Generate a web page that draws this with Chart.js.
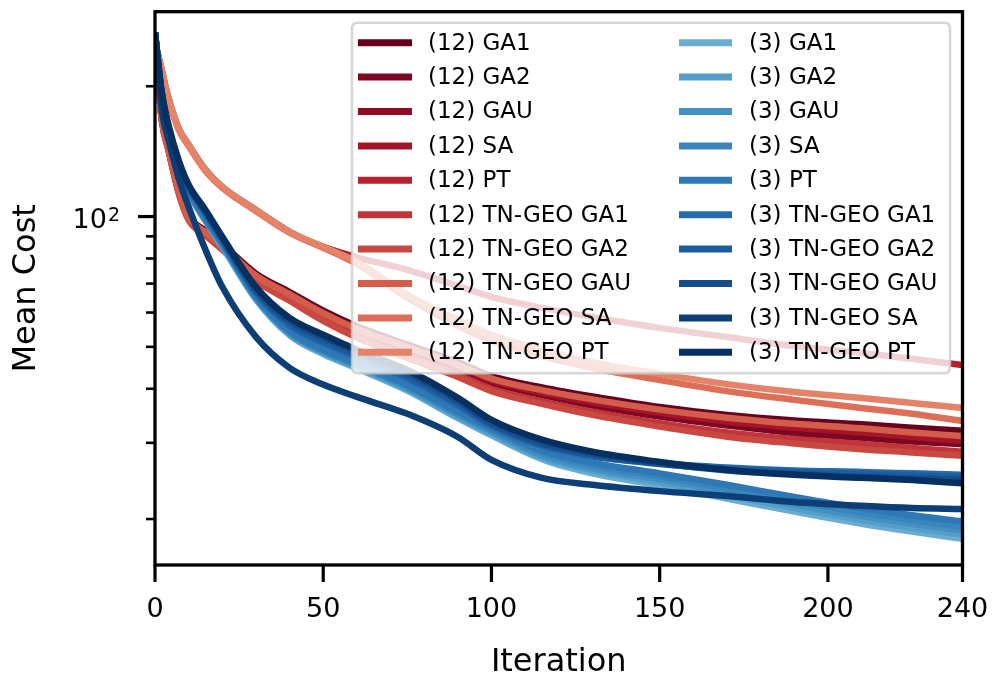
<!DOCTYPE html>
<html>
<head>
<meta charset="utf-8">
<script src="https://cdn.jsdelivr.net/npm/chart.js@4/dist/chart.umd.min.js"></script>
<style>html,body{margin:0;padding:0;background:#fff;}canvas{display:block;}</style>
</head>
<body>
<canvas id="c" width="995" height="679"></canvas>
<script>
// ---------- data ----------
const iterations = [0,2,4,7,10,15,20,30,40,50,60,75,90,100,115,130,150,170,190,210,225,240];

const s12_GA1   = [256,170,145,116,100.3,92.8,86.3,73.8,66.9,60.6,55.8,50.6,46.1,42.8,40.3,38.4,36.3,34.8,33.8,33.1,32.5,32.0];
const s12_GA2   = [255,168,143,114.5,99,91.5,85,72.3,65.4,59.0,54.2,49.0,44.5,41.3,38.7,36.6,34.5,32.9,31.6,30.8,30.2,29.8];
const s12_GAU   = [254,169,144.5,115.5,99.8,92.2,85.7,73.2,66.3,60.0,55.2,50.0,45.4,42.2,39.6,37.6,35.6,34.0,33.0,32.1,31.4,30.8];
const s12_SA    = [255,169.5,144,115,99.5,91.9,85.3,72.8,65.9,59.5,54.7,49.5,45.0,41.8,39.2,37.2,35.2,33.6,32.5,31.7,31.0,30.3];
const s12_PT    = [253,218,188,160,146.5,128.2,117.1,103.6,92.2,85.1,80.5,75.3,69.1,65.2,61.5,58.6,55.3,52.7,50.2,48.4,46.9,45.4];
const s12_TGA1  = [255,168,143,114,98.5,90.8,84.2,71.5,64.5,58.0,53.0,47.6,43.1,40.0,37.4,35.4,33.3,31.7,30.6,29.8,29.2,28.6];
const s12_TGA2  = [254,167,142,113.5,98.2,90.5,83.8,71.0,63.9,57.4,52.5,47.1,42.6,39.5,36.9,34.8,32.7,31.0,29.9,29.0,28.5,28.0];
const s12_TGAU  = [255,169,144,115.3,99.6,92.0,85.5,73.0,66.1,59.8,55.0,49.9,45.4,42.2,39.7,37.8,35.8,34.3,33.2,32.4,31.7,31.1];
const s12_TSA   = [252,217,187,159,145.5,127.5,116.5,103,91.8,84.7,77.7,64.9,55.9,51.6,47.6,44.7,41.9,39.5,37.7,36.1,35.0,33.7];
const s12_TPT   = [253,218,188,160,146.5,128.2,117.1,103.6,92.2,85.1,78.6,65.9,57.7,53.3,49.2,46.1,43.3,41.0,39.3,38.1,37.1,36.1];

const s3_GA1    = [266,185,156,128.8,113.3,97.6,85.2,64.3,53.2,48.1,44.6,39.6,34.2,31.2,27.5,25.5,23.9,22.3,20.8,19.5,18.7,18.0];
const s3_GA2    = [266,185.5,156.5,129.2,113.7,98.0,85.6,64.6,53.5,48.4,44.9,39.9,34.5,31.5,27.8,25.9,24.3,22.7,21.2,19.9,19.1,18.4];
const s3_GAU    = [266,186,157,129.6,114.1,98.3,86.0,64.9,53.8,48.7,45.2,40.2,34.8,31.8,28.1,26.2,24.7,23.1,21.6,20.3,19.5,18.8];
const s3_SA     = [266,186.5,157.5,130,114.5,98.7,86.4,65.2,54.1,49.0,45.5,40.5,35.1,32.1,28.5,26.6,25.1,23.5,22.0,20.7,19.9,19.2];
const s3_PT     = [266,187,158,130.5,115,99,86.8,65.5,54.4,49.3,45.8,40.8,35.4,32.4,28.8,27.0,25.5,24.0,22.5,21.2,20.4,19.75];
const s3_TGA1   = [266,190,160,132.5,116.5,101.5,88.0,66.5,56.0,51.0,47.3,42.2,36.5,32.8,29.5,27.9,26.9,26.3,25.9,25.7,25.5,25.3];
const s3_TGA2   = [266,191,160.5,133,117,102,88.4,67.0,56.5,51.5,47.7,42.6,36.9,33.0,29.7,28.0,26.8,26.1,25.7,25.4,25.2,25.0];
const s3_TGAU   = [266,193,161.5,134,117.5,102.5,88.8,67.8,57.4,52.5,48.5,43.5,37.5,33.3,30.0,28.3,26.9,25.9,25.4,25.0,24.8,24.7];
const s3_TSA    = [266,176.5,150.4,122.9,105.3,83.8,68.8,52.7,44.7,40.9,38.3,35.0,30.95,27.4,24.9,24.0,23.2,22.6,21.9,21.45,21.2,21.1];
const s3_TPT    = [266,194.2,162.9,135.2,118.4,103.6,89.8,68.8,58.3,53.3,49.2,44.2,38.1,33.9,30.5,28.6,27.1,26.0,25.3,24.9,24.6,24.2];

const seriesLabels = [
  "(12) GA1","(12) GA2","(12) GAU","(12) SA","(12) PT",
  "(12) TN-GEO GA1","(12) TN-GEO GA2","(12) TN-GEO GAU","(12) TN-GEO SA","(12) TN-GEO PT",
  "(3) GA1","(3) GA2","(3) GAU","(3) SA","(3) PT",
  "(3) TN-GEO GA1","(3) TN-GEO GA2","(3) TN-GEO GAU","(3) TN-GEO SA","(3) TN-GEO PT"
];
const seriesValues = [
  s12_GA1,s12_GA2,s12_GAU,s12_SA,s12_PT,s12_TGA1,s12_TGA2,s12_TGAU,s12_TSA,s12_TPT,
  s3_GA1,s3_GA2,s3_GAU,s3_SA,s3_PT,s3_TGA1,s3_TGA2,s3_TGAU,s3_TSA,s3_TPT
];
const seriesColors = [
  "#67001f","#7c0722","#910d26","#a51429","#b6202f","#c0343a","#ca4842","#d45c4b","#dd6f59","#e58368",
  "#6bacd1","#559ec9","#4191c2","#3884bb","#2e78b5","#256baf","#1c5da0","#154e8b","#0d3f76","#053061"
];

const xTickValues = [0,50,100,150,200,240];
const xTickLabels = ["0","50","100","150","200","240"];
const yTickValues = [100];
const yTickBase = ["10"];
const yTickExp = ["2"];
const yMinorTickValues = [20,30,40,50,60,70,80,90,200];

// ---------- chart ----------
const FONT = "'DejaVu Sans', 'Liberation Sans', sans-serif";
Chart.defaults.font.family = FONT;
Chart.defaults.color = "#000";

const N = seriesLabels.length;
const datasets = seriesLabels.map((lab, i) => ({
  label: lab,
  data: iterations.map((it, j) => ({x: it, y: seriesValues[i][j]})),
  borderColor: seriesColors[i],
  backgroundColor: seriesColors[i],
  borderWidth: 6.5,
  pointRadius: 0,
  fill: false,
  cubicInterpolationMode: 'monotone',
  borderCapStyle: 'butt',
  borderJoinStyle: 'round',
  order: N - i
}));

function line(ctx, x0, y0, x1, y1) { ctx.beginPath(); ctx.moveTo(x0, y0); ctx.lineTo(x1, y1); ctx.stroke(); }

const axesPlugin = {
  id: 'axesDeco',
  afterDraw(chart) {
    const {ctx, chartArea: a, scales: {x, y}} = chart;
    ctx.save();
    ctx.strokeStyle = '#000';
    ctx.lineCap = 'butt';
    ctx.lineWidth = 3.2;
    xTickValues.forEach(v => { const px = x.getPixelForValue(v); line(ctx, px, a.bottom, px, a.bottom + 17); });
    yTickValues.forEach(v => { const py = y.getPixelForValue(v); line(ctx, a.left - 17, py, a.left, py); });
    ctx.lineWidth = 2.6;
    yMinorTickValues.forEach(v => { const py = y.getPixelForValue(v); line(ctx, a.left - 9, py, a.left, py); });
    ctx.lineWidth = 3.3;
    ctx.strokeRect(a.left, a.top, a.right - a.left, a.bottom - a.top);
    // tick labels
    ctx.fillStyle = '#000';
    ctx.textBaseline = 'alphabetic';
    ctx.font = "27px " + FONT;
    ctx.textAlign = 'center';
    xTickValues.forEach((v, k) => { ctx.fillText(xTickLabels[k], x.getPixelForValue(v), a.bottom + 52); });
    yTickValues.forEach((v, k) => {
      const py = y.getPixelForValue(v);
      const right = a.left - 35;
      ctx.font = "19px " + FONT;
      ctx.textAlign = 'right';
      const ew = ctx.measureText(yTickExp[k]).width;
      ctx.fillText(yTickExp[k], right, py + 4);
      ctx.font = "27px " + FONT;
      ctx.fillText(yTickBase[k], right - ew - 1, py + 11);
    });
    ctx.restore();
  }
};

const legendPlugin = {
  id: 'legendBox',
  afterDatasetsDraw(chart) {
    const ctx = chart.ctx;
    const L = 352, T = 22.7, R = 950, B = 373.3, r = 6;
    ctx.save();
    ctx.beginPath();
    ctx.moveTo(L + r, T); ctx.lineTo(R - r, T); ctx.quadraticCurveTo(R, T, R, T + r);
    ctx.lineTo(R, B - r); ctx.quadraticCurveTo(R, B, R - r, B);
    ctx.lineTo(L + r, B); ctx.quadraticCurveTo(L, B, L, B - r);
    ctx.lineTo(L, T + r); ctx.quadraticCurveTo(L, T, L + r, T);
    ctx.closePath();
    ctx.fillStyle = 'rgba(255,255,255,0.8)';
    ctx.fill();
    ctx.strokeStyle = 'rgba(204,204,204,0.8)';
    ctx.lineWidth = 2.5;
    ctx.stroke();
    ctx.font = "23px " + FONT;
    ctx.textBaseline = 'middle';
    ctx.textAlign = 'left';
    chart.data.datasets.forEach((ds, i) => {
      const col = i < 10 ? 0 : 1;
      const row = i % 10;
      const yy = 42.7 + row * 34.4;
      const hx0 = col ? 679 : 358, hx1 = col ? 732 : 412, tx = col ? 749 : 428;
      ctx.strokeStyle = ds.borderColor;
      ctx.lineWidth = 7;
      ctx.lineCap = 'butt';
      line(ctx, hx0, yy, hx1, yy);
      ctx.fillStyle = '#000';
      ctx.fillText(ds.label, tx, yy + 1);
    });
    ctx.restore();
  }
};

new Chart(document.getElementById('c'), {
  type: 'line',
  data: { datasets },
  options: {
    responsive: false,
    animation: false,
    devicePixelRatio: 1,
    layout: { padding: { top: 11.7, right: 32.5, left: 0, bottom: 0 } },
    plugins: { legend: { display: false }, tooltip: { enabled: false } },
    scales: {
      x: {
        type: 'linear',
        min: 0, max: 240,
        grid: { display: false, drawTicks: false },
        border: { display: false },
        afterBuildTicks: s => { s.ticks = xTickValues.map(v => ({value: v})); },
        afterFit: s => { s.height = 114; s.paddingLeft = 0; s.paddingRight = 0; },
        ticks: { display: false },
        title: { display: true, text: 'Iteration', color: '#000', font: { size: 32, lineHeight: 1 }, padding: { top: 0, bottom: 0 } }
      },
      y: {
        type: 'logarithmic',
        min: 15.66, max: 297.4,
        grid: { display: false, drawTicks: false },
        border: { display: false },
        afterBuildTicks: s => { s.ticks = yTickValues.map(v => ({value: v})); },
        afterFit: s => { s.width = 155; s.paddingTop = 0; s.paddingBottom = 0; },
        ticks: { display: false },
        title: { display: true, text: 'Mean Cost', color: '#000', font: { size: 32, lineHeight: 1 }, padding: { top: 11, bottom: 0 } }
      }
    }
  },
  plugins: [axesPlugin, legendPlugin]
});
</script>
</body>
</html>
